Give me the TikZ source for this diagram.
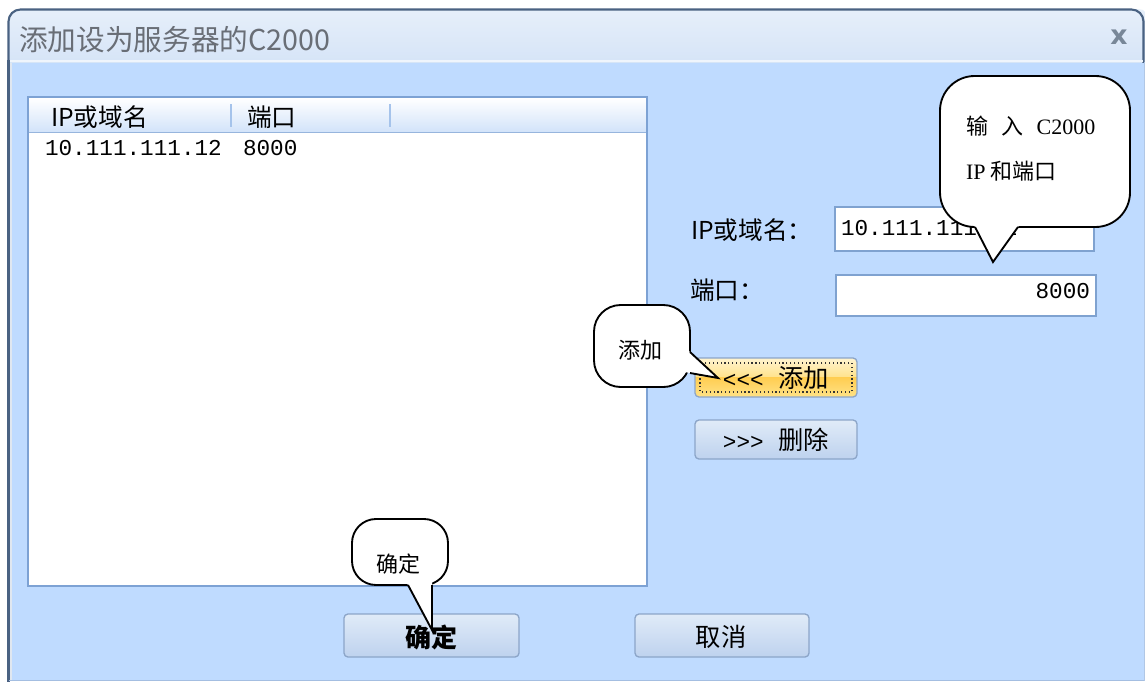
\documentclass[tikz,border=0pt]{standalone}
\usepackage{fontspec}
\usetikzlibrary{calc}
\setmainfont{Liberation Serif}
\newfontfamily\cjk{Noto Sans CJK SC}
\newfontfamily\mono{Liberation Mono}
\newfontfamily\dvs{DejaVu Sans}
\definecolor{bodyblue}{RGB}{191,219,255}
\definecolor{titletop}{RGB}{230,239,250}
\definecolor{titlebot}{RGB}{203,221,245}
\definecolor{winborder}{RGB}{74,98,130}
\definecolor{listborder}{RGB}{125,162,212}
\definecolor{hdrbot}{RGB}{210,227,250}
\definecolor{sepcol}{RGB}{165,195,235}
\definecolor{tbborder}{RGB}{127,162,208}
\definecolor{btnborder}{RGB}{140,165,200}
\definecolor{btntop}{RGB}{224,235,248}
\definecolor{btnbot}{RGB}{190,210,238}
\definecolor{ybtop}{RGB}{255,244,208}
\definecolor{ybmid}{RGB}{255,226,140}
\definecolor{ybdeep}{RGB}{255,205,80}
\definecolor{ybbot}{RGB}{255,226,135}
\definecolor{titlegrey}{RGB}{105,110,118}
\definecolor{closegrey}{RGB}{120,135,152}
\begin{document}
\begin{tikzpicture}[x=0.75pt,y=-0.75pt,
  every node/.style={inner sep=0pt, outer sep=0pt},
  uitext/.style={font=\cjk\fontsize{18.5}{18.5}\selectfont, text=black},
  monotext/.style={font=\mono\fontsize{17}{17}\selectfont, text=black},
  btntext/.style={font=\cjk\fontsize{19}{19}\selectfont, text=black},
  calltext/.style={font=\cjk\fontsize{16.5}{16.5}\selectfont, text=black},
  textbox/.style={draw=tbborder, fill=white, line width=1.1pt},
  bluebtn/.style={draw=btnborder, line width=1pt, rounded corners=3pt, top color=btntop, bottom color=btnbot},
  callout/.style={draw=black, fill=white, line width=1.4pt},
  pointer/.style={draw=black, line width=1.4pt, line join=miter}
]
\useasboundingbox (0,0) rectangle (1145,682);
\fill[white] (0,0) rectangle (1145,682);
% window body
\fill[bodyblue] (8,60) rectangle (1145,681);
% title bar
\begin{scope}
  \clip (0,0) rectangle (1145,62);
  \shade[top color=titletop, bottom color=titlebot, rounded corners=9pt] (8,9) rectangle (1150,100);
  \draw[winborder, line width=1.6pt, rounded corners=9pt] (8.5,120) -- (8.5,9.5) -- (1143.5,9.5) -- (1143.5,120);
\end{scope}
\draw[white!70!titlebot, line width=1pt] (9,61) -- (1143,61);
\draw[winborder, line width=1.6pt] (8.5,60) -- (8.5,682);
\draw[bodyblue!80!black!30!white, line width=1pt] (11,63) -- (11,680);
\draw[listborder!70!white, line width=1pt] (9,680.5) -- (1145,680.5);
\draw[listborder!60!white, line width=0.8pt] (1144.5,62) -- (1144.5,681);
% title and close
\node[anchor=west, font=\cjk\fontsize{21.5}{21.5}\selectfont, text=titlegrey] (title) at (19,40) {添加设为服务器的C2000};
\node[font=\dvs\bfseries\fontsize{20}{20}\selectfont, text=closegrey] (close) at (1119,37) {x};
% list box
\fill[white] (28,97) rectangle (647,586);
\shade[top color=white, bottom color=hdrbot] (29,98) rectangle (646,132);
\draw[listborder!80!white, line width=1.2pt] (29,132.5) -- (646,132.5);
\draw[sepcol, line width=1.2pt] (231,104) -- (231,127);
\draw[sepcol, line width=1.2pt] (390,104) -- (390,127);
\draw[listborder, line width=2pt] (28,97) rectangle (647,586);
\node[uitext, anchor=west] (hip) at (51,117) {IP或域名};
\node[uitext, anchor=west] (hport) at (247,117) {端口};
\node[monotext, anchor=west] (rowip) at (45,148) {10.111.111.12};
\node[monotext, anchor=west] (rowport) at (243,148) {8000};
% right side fields
\node[uitext, anchor=west] (lblip) at (691,230) {IP或域名：};
\node[uitext, anchor=west] (lblport) at (690,290) {端口：};
\draw[textbox] (835,207) rectangle (1094,251);
\node[monotext, anchor=west] (valip) at (841,228) {10.111.111.12};
\draw[textbox] (836,275) rectangle (1096,316);
\node[monotext, anchor=east] (valport) at (1090,291) {8000};
% add button (focused)
\begin{scope}
  \clip[rounded corners=3pt] (695,358) rectangle (857,397);
  \shade[top color=ybtop, bottom color=ybmid] (695,358) rectangle (857,377);
  \shade[top color=ybdeep, bottom color=ybbot] (695,377) rectangle (857,397);
\end{scope}
\draw[btnborder, line width=1pt, rounded corners=3pt] (695,358) rectangle (857,397);
\draw[black!80, line width=0.9pt, dotted] (700,363) rectangle (852,392);
\node[btntext] (addbtn) at (776,378) {{\mono\fontsize{17}{17}\selectfont <<<}\hspace{11pt}添加};
% delete button
\draw[bluebtn] (695,420) rectangle (857,459);
\node[btntext] (delbtn) at (776,440) {{\mono\fontsize{17}{17}\selectfont >>>}\hspace{11pt}删除};
% OK / cancel
\draw[bluebtn] (344,614) rectangle (519,657);
\node[btntext, font=\cjk\bfseries\fontsize{19.5}{19.5}\selectfont] (okbtn) at (431,637) {确定};
\draw[bluebtn] (635,614) rectangle (809,657);
\node[btntext] (cancelbtn) at (721,637) {取消};
% callout 1: input
\draw[callout, rounded corners=26pt] (940,76) rectangle (1130,227);
\coordinate (c1a) at (975,227);
\coordinate (c1t) at (993,262);
\coordinate (c1b) at (1018,227);
\fill[white] ($(c1t)!1.15!(c1a)$) -- (c1t) -- ($(c1t)!1.15!(c1b)$) -- cycle;
\draw[pointer] (c1a) -- (c1t) -- (c1b);
\node[calltext, anchor=west] (t1a) at (966,126) {输\hspace{10pt}入\hspace{10pt}{\rmfamily C2000}};
\node[calltext, anchor=west] (t1b) at (966,171) {{\rmfamily IP} 和端口};
% callout 2: add
\draw[callout, rounded corners=20pt] (594,305) rectangle (690,387);
\coordinate (c2a) at (690,352);
\coordinate (c2t) at (718,378);
\coordinate (c2b) at (690,373);
\fill[white] ($(c2t)!1.2!(c2a)$) -- (c2t) -- ($(c2t)!1.2!(c2b)$) -- cycle;
\draw[pointer] (c2a) -- (c2t) -- (c2b);
\node[calltext] (t2) at (640,350) {添加};
% callout 3: ok
\draw[callout, rounded corners=18pt] (352,519) rectangle (448,585);
\coordinate (c3a) at (408,585);
\coordinate (c3t) at (432,630);
\coordinate (c3b) at (432,585);
\fill[white] ($(c3t)!1.15!(c3a)$) -- (c3t) -- ($(c3t)!1.15!(c3b)$) -- cycle;
\draw[pointer] (c3a) -- (c3t) -- (c3b);
\node[calltext] (t3) at (398,564) {确定};
\end{tikzpicture}
\end{document}
